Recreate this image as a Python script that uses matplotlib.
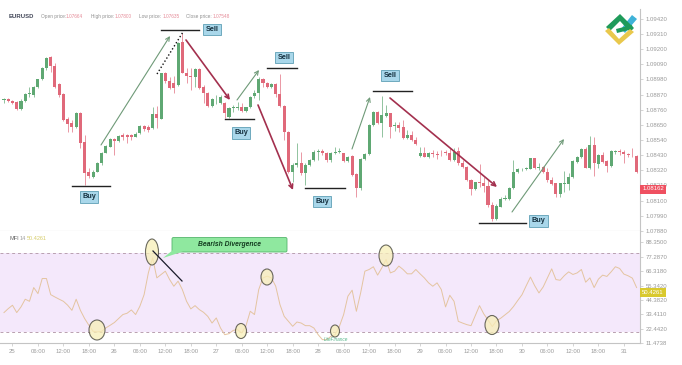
import matplotlib
matplotlib.use("Agg")
import matplotlib.pyplot as plt
from matplotlib.patches import Ellipse, FancyBboxPatch, Polygon

# -----------------------------
# Data: hourly candles, prices in 1e-5 units
# -----------------------------
opens = [108830, 108835, 108823, 108815, 108765, 108825, 108871, 108866, 108922, 108980,
         109060, 109140, 109079, 108946, 108874, 108690, 108661, 108632, 108733, 108528,
         108305, 108273, 108310, 108370, 108448, 108491, 108544, 108530, 108573, 108573,
         108573, 108564, 108588, 108641, 108636, 108624, 108728, 108694, 109024, 108970,
         108951, 108939, 109254, 109028, 109004, 108999, 109053, 108922, 108883, 108789,
         108842, 108806, 108806, 108709, 108770, 108774, 108777, 108750, 108777, 108859,
         108878, 108982, 108956, 108922, 108946, 108874, 108786, 108600, 108310, 108358,
         108370, 108298, 108358, 108394, 108455, 108462, 108448, 108394, 108448, 108452,
         108448, 108390, 108423, 108293, 108189, 108402, 108438, 108649, 108745, 108665,
         108716, 108733, 108644, 108649, 108632, 108552, 108576, 108540, 108426, 108448,
         108419, 108443, 108438, 108448, 108452, 108448, 108394, 108462, 108370, 108346,
         108249, 108182, 108237, 108225, 108206, 108068, 107966, 108056, 108111, 108111,
         108189, 108307, 108327, 108331, 108331, 108407, 108334, 108341, 108310, 108249,
         108225, 108145, 108220, 108220, 108269, 108380, 108414, 108474, 108339, 108501,
         108365, 108431, 108385, 108353, 108455, 108460, 108455, 108436, 108426, 108423]
highs = [108847, 108842, 108830, 108823, 108835, 108883, 108927, 108932, 108985, 109072,
         109145, 109149, 109096, 108951, 108878, 108709, 108685, 108740, 108745, 108576,
         108334, 108322, 108378, 108455, 108503, 108552, 108552, 108576, 108588, 108583,
         108583, 108600, 108649, 108649, 108649, 108782, 108786, 109028, 109036, 108999,
         109004, 109254, 109314, 109060, 109060, 109060, 109060, 108939, 108891, 108847,
         108866, 108866, 108818, 108777, 108794, 108818, 108806, 108782, 108862, 108903,
         108995, 108992, 108963, 108956, 108951, 109019, 108794, 108607, 108370, 108515,
         108455, 108370, 108399, 108467, 108472, 108474, 108455, 108455, 108491, 108479,
         108448, 108423, 108431, 108302, 108407, 108443, 108656, 108753, 108750, 108859,
         108794, 108738, 108673, 108673, 108685, 108612, 108607, 108559, 108486, 108486,
         108455, 108467, 108462, 108467, 108467, 108479, 108479, 108491, 108394, 108351,
         108254, 108237, 108365, 108273, 108249, 108092, 108075, 108128, 108140, 108201,
         108394, 108334, 108339, 108346, 108411, 108411, 108370, 108351, 108334, 108269,
         108230, 108230, 108317, 108298, 108394, 108424, 108484, 108486, 108569, 108564,
         108438, 108455, 108394, 108467, 108467, 108474, 108467, 108448, 108479, 108428]
lows = [108806, 108815, 108801, 108757, 108757, 108818, 108849, 108854, 108915, 108975,
        109048, 109036, 108915, 108854, 108680, 108600, 108600, 108624, 108479, 108213,
        108261, 108261, 108305, 108358, 108443, 108486, 108431, 108523, 108540, 108515,
        108540, 108559, 108581, 108607, 108600, 108620, 108624, 108690, 108951, 108907,
        108878, 108932, 109024, 108951, 108902, 108927, 108907, 108806, 108782, 108782,
        108801, 108801, 108697, 108697, 108745, 108757, 108743, 108745, 108770, 108842,
        108830, 108922, 108915, 108915, 108854, 108782, 108540, 108298, 108237, 108346,
        108286, 108213, 108351, 108387, 108394, 108431, 108382, 108382, 108438, 108443,
        108382, 108382, 108281, 108128, 108177, 108394, 108431, 108641, 108656, 108564,
        108709, 108552, 108607, 108600, 108544, 108544, 108535, 108501, 108419, 108414,
        108411, 108419, 108399, 108423, 108431, 108390, 108390, 108358, 108334, 108242,
        108140, 108177, 108201, 108165, 108056, 107954, 107959, 108051, 108104, 108104,
        108181, 108298, 108317, 108322, 108327, 108327, 108322, 108302, 108237, 108210,
        108128, 108128, 108165, 108177, 108261, 108370, 108407, 108334, 108329, 108281,
        108334, 108370, 108310, 108346, 108438, 108431, 108370, 108414, 108414, 108302]
closes = [108835, 108823, 108811, 108765, 108825, 108876, 108881, 108922, 108980, 109060,
          109135, 109079, 108922, 108866, 108685, 108656, 108632, 108733, 108515, 108298,
          108278, 108310, 108370, 108448, 108496, 108544, 108535, 108569, 108559, 108559,
          108564, 108583, 108641, 108617, 108612, 108728, 108697, 109024, 108970, 108917,
          108915, 109246, 109028, 109004, 108999, 109053, 108920, 108878, 108789, 108840,
          108847, 108849, 108733, 108770, 108777, 108782, 108750, 108777, 108854, 108878,
          108982, 108951, 108922, 108946, 108874, 108786, 108600, 108310, 108358, 108375,
          108298, 108358, 108394, 108455, 108462, 108443, 108394, 108448, 108455, 108457,
          108390, 108419, 108286, 108194, 108402, 108438, 108649, 108745, 108665, 108721,
          108733, 108632, 108649, 108624, 108552, 108576, 108540, 108508, 108448, 108419,
          108448, 108438, 108433, 108443, 108448, 108394, 108455, 108370, 108346, 108249,
          108182, 108232, 108225, 108206, 108068, 107966, 108060, 108111, 108116, 108189,
          108307, 108327, 108331, 108336, 108407, 108334, 108346, 108310, 108249, 108218,
          108145, 108225, 108225, 108274, 108387, 108414, 108474, 108339, 108501, 108370,
          108431, 108382, 108353, 108460, 108460, 108453, 108436, 108428, 108421, 108310]

# MFI(14), one value per candle
mfi = [34.7, 37.7, 40.3, 34.7, 39.0, 44.9, 43.3, 53.8, 49.2, 60.7,
       60.7, 48.4, 46.6, 44.9, 43.3, 40.3, 36.4, 44.9, 36.4, 30.1,
       25.0, 20.4, 19.9, 20.4, 23.0, 25.0, 27.1, 30.1, 33.2, 34.2,
       36.7, 33.2, 39.5, 48.4, 65.0, 76.5, 61.2, 63.8, 66.3, 60.0,
       54.8, 58.7, 52.3, 43.3, 37.5, 40.0, 37.0, 34.9, 31.8, 26.7,
       30.6, 22.9, 17.8, 18.6, 21.1, 21.7, 19.1, 24.7, 35.7, 33.2,
       52.3, 61.2, 62.5, 61.2, 54.8, 40.8, 31.8, 28.0, 24.2, 27.5,
       26.7, 24.7, 24.7, 22.9, 17.8, 14.0, 14.0, 16.5, 17.8, 24.2,
       33.2, 47.2, 51.8, 35.7, 49.7, 66.3, 67.6, 69.7, 63.3, 68.9,
       75.3, 65.0, 66.3, 70.2, 67.6, 64.3, 64.3, 67.6, 64.3, 61.2,
       57.4, 54.8, 57.4, 52.3, 39.0, 47.9, 43.3, 28.0, 26.7, 25.5,
       24.7, 32.4, 40.0, 33.7, 29.1, 24.0, 28.5, 30.4, 32.9, 35.5,
       39.3, 43.9, 48.3, 55.2, 61.8, 55.2, 49.7, 54.3, 61.2, 68.1,
       59.9, 59.4, 63.0, 65.8, 63.8, 65.0, 67.6, 57.9, 61.2, 53.8,
       60.2, 63.3, 62.3, 65.8, 69.7, 68.4, 64.1, 62.8, 61.0, 53.8]

time_labels = ["25", "06:00", "12:00", "18:00", "26", "06:00", "12:00", "18:00",
               "27", "06:00", "12:00", "18:00", "28", "06:00", "12:00", "18:00",
               "29", "06:00", "12:00", "18:00", "30", "06:00", "12:00", "18:00", "31"]
price_ticks = ["1.09420", "1.09310", "1.09200", "1.09090", "1.08980", "1.08870", "1.08760",
               "1.08650", "1.08540", "1.08430", "1.08320", "1.08210", "1.08100", "1.07990", "1.07880"]
mfi_ticks = ["88.3500", "77.2870", "66.3180", "55.3420", "44.3820", "33.4110", "22.4420", "11.4738"]

UP = "#5fa873"
DOWN = "#e0697a"
GREY = "#9a9a9a"
W, H = 682, 365

plt.rcParams["font.family"] = ["Liberation Sans", "DejaVu Sans"]
fig = plt.figure(figsize=(W / 100, H / 100), dpi=100)


def box(l, t, r, b):
    return [l / W, 1 - b / H, (r - l) / W, (b - t) / H]


ax = fig.add_axes(box(0, 9, 640, 231))
ax2 = fig.add_axes(box(0, 231, 640, 343))
over = fig.add_axes([0, 0, 1, 1])
over.set_xlim(0, W)
over.set_ylim(H, 0)
over.axis("off")
over.patch.set_alpha(0)

# -----------------------------
# Candles
# -----------------------------
for i in range(len(closes)):
    o, h, l, c = opens[i] / 1e5, highs[i] / 1e5, lows[i] / 1e5, closes[i] / 1e5
    col = UP if c >= o else DOWN
    ax.vlines(i, l, h, color=col, lw=0.6, alpha=0.8)
    ax.bar(i, max(abs(c - o), 0.00005), bottom=min(o, c), width=0.72, color=col, lw=0)

xlim = (-0.94, 149.8)
ax.set_xlim(*xlim)
ax.set_ylim(1.07879, 1.09491)
ax.yaxis.tick_right()
ax.set_yticks([float(t) for t in price_ticks], price_ticks)
ax.set_xticks([])

# -----------------------------
# MFI panel
# -----------------------------
ax2.axhspan(20, 80, color="#f4e8fb", lw=0)
ax2.axhline(80, color="#b9a0b0", lw=0.7, ls=(0, (3, 3)))
ax2.axhline(20, color="#b9a0b0", lw=0.7, ls=(0, (3, 3)))
ax2.plot(range(len(mfi)), mfi, color="#e4c4a0", lw=0.7)
ax2.set_xlim(*xlim)
ax2.set_ylim(11.46, 97.0)
ax2.yaxis.tick_right()
ax2.set_yticks([float(t) for t in mfi_ticks], mfi_ticks)
ax2.set_xticks([2 + 6 * k for k in range(len(time_labels))], time_labels)

for a in (ax, ax2):
    for s in ("left", "top"):
        a.spines[s].set_visible(False)
    a.spines["right"].set_color("#c4c4c4")
    a.spines["bottom"].set_color("#c4c4c4")
    a.spines["right"].set_linewidth(0.8)
    a.spines["bottom"].set_linewidth(0.8)
    a.tick_params(axis="both", labelsize=4.3, labelcolor=GREY, color="#c4c4c4",
                  length=2, width=0.5, pad=2)
    a.margins(0)

# -----------------------------
# Header text
# -----------------------------
over.text(9, 16.5, "EURUSD", fontsize=4.3, fontweight="bold", color="#44495a", va="center")
x_pos = [41, 91, 139, 186]
names = ["Open price:", "High price:", "Low price:", "Close price:"]
vals = ["1.07664", "1.07800", "1.07635", "1.07548"]
val_x = [66, 115, 163, 213]
for x, n, vx, v in zip(x_pos, names, val_x, vals):
    over.text(x, 16.5, n, fontsize=3.4, color="#8f8f8f", va="center")
    over.text(vx, 16.5, v, fontsize=3.4, color="#e58a97", va="center")
over.text(9, 238.5, "MFI", fontsize=4, color="#666666", va="center")
over.text(20, 238.5, "14", fontsize=4, color="#a0a0a0", va="center")
over.text(27, 238.5, "50.4261", fontsize=4, color="#d6cc6a", va="center")

# last value tags
for y, txt, col, tc in [(189, "1.08162", "#ef5060", "white"), (292.5, "50.4261", "#d9c92e", "white")]:
    over.add_patch(plt.Rectangle((640, y - 4.5), 26, 9, color=col, lw=0))
    over.text(653, y, txt, fontsize=4.3, color=tc, ha="center", va="center")

# -----------------------------
# Annotations (figure pixels)
# -----------------------------
hlines = [(72, 110, 186), (161, 199, 29.5), (225, 254, 119), (267, 297, 68),
          (305, 345, 188), (373, 412, 91), (479, 526, 223)]
for x0, x1, y in hlines:
    over.plot([x0, x1], [y, y], color="#222222", lw=1)

labels = [("Buy", 89, 197), ("Sell", 212, 29.5), ("Buy", 241, 133), ("Sell", 284, 57.5),
          ("Buy", 322, 201.5), ("Sell", 390, 75.5), ("Buy", 538.5, 221)]
for txt, x, y in labels:
    over.text(x, y, txt, fontsize=5.2, fontweight="bold", color="#15303f", ha="center", va="center",
              bbox=dict(boxstyle="square,pad=0.32", fc="#a9d7ea", ec="#5f9fb5", lw=0.6))

green_arrows = [((101, 145), (170, 36)), ((237, 100), (259, 70)), ((352, 149), (370, 97)),
                ((512, 212), (564, 139))]
for a, b in green_arrows:
    over.annotate("", xy=b, xytext=a, arrowprops=dict(arrowstyle="->", color="#6f9a78", lw=0.8,
                                                      mutation_scale=7, shrinkA=0, shrinkB=0))
red_arrows = [((186, 40), (230, 100)), ((258, 105), (293, 190)), ((390, 98), (497, 187))]
for a, b in red_arrows:
    over.annotate("", xy=b, xytext=a, arrowprops=dict(arrowstyle="->", color="#a3304e", lw=1.2,
                                                      mutation_scale=7, shrinkA=0, shrinkB=0))
over.plot([157, 183], [74, 32], color="#111111", lw=1, ls=(0, (1, 1.6)))

ellipses = [(97, 330, 16, 20), (152, 252, 13, 26), (267, 277, 12, 16), (241, 331, 11, 15),
            (335, 331, 9, 12), (386, 255.5, 14, 21), (492, 325, 14, 19)]
for x, y, w, h in ellipses:
    over.add_patch(Ellipse((x, y), w, h, fc="#f8efb8", ec="#3a3a30", lw=0.8, alpha=0.75, zorder=5))
over.plot([153, 182], [251, 281], color="#1a1a2a", lw=0.9, zorder=6)

# callout
over.add_patch(FancyBboxPatch((172, 237.5), 115, 14.5, boxstyle="round,pad=0,rounding_size=1.5",
                              fc="#8fe89f", ec="#55b56c", lw=0.6))
over.add_patch(Polygon([(173, 250), (183, 251.5), (163, 258)], fc="#8fe89f", ec="none"))
over.text(229, 245, "Bearish Divergence", fontsize=4.9, fontweight="bold", style="italic",
          color="#143c20", ha="center", va="center")

# watermark
over.text(324, 339.5, "LiteFinance", fontsize=3.4, color="#55b58a", va="center", style="italic")

# logo
over.add_patch(Polygon([(632, 15), (637, 19), (625, 33), (621, 29)], fc="#3fb2d8", lw=0))
over.add_patch(Polygon([(606, 27), (620, 14), (634, 28), (630, 32), (620, 21), (610, 31)], fc="#1f9b5a", lw=0))
over.add_patch(Polygon([(616, 29), (632, 25), (633, 29), (617, 33)], fc="#1f9b5a", lw=0))
over.add_patch(Polygon([(605, 31), (609, 28), (619, 39), (630, 29), (634, 32), (619, 45)], fc="#e9c84c", lw=0))

fig.savefig("out.png", dpi=100)
